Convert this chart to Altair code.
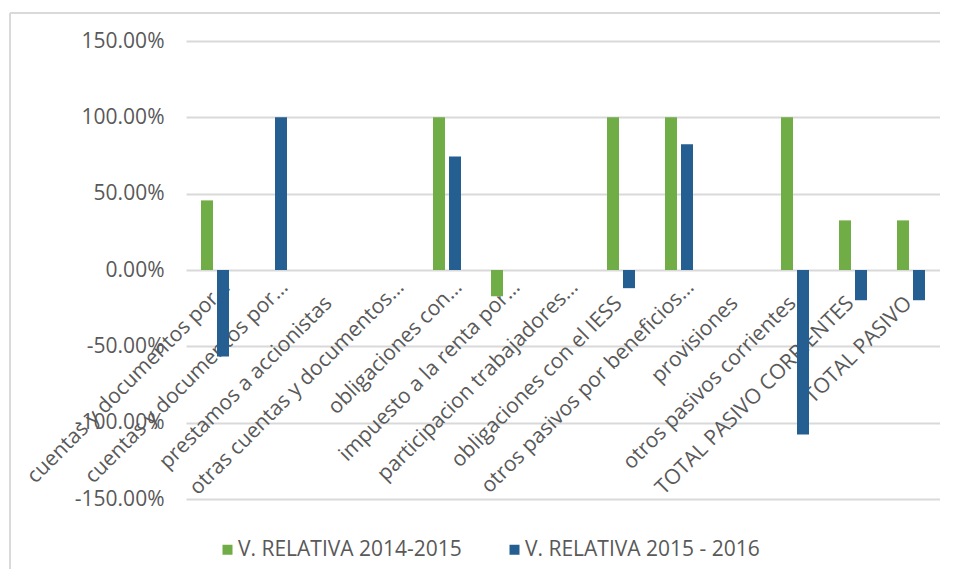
import altair as alt
import pandas as pd
import json

categories = [
    "cuentas y documentos por…",
    "cuentas y documentos por…",
    "prestamos a accionistas",
    "otras cuentas y documentos…",
    "obligaciones con…",
    "impuesto a la renta por…",
    "participacion trabajadores…",
    "obligaciones con el IESS",
    "otros pasivos por beneficios…",
    "provisiones",
    "otros pasivos corrientes",
    "TOTAL PASIVO CORRIENTES",
    "TOTAL PASIVO",
]
series = ["V. RELATIVA 2014-2015", "V. RELATIVA 2015 - 2016"]
v_2014_2015 = [0.456, 0.0, 0.0, 0.0, 1.0, -0.172, 0.0, 1.0, 1.0, 0.0, 1.0, 0.325, 0.325]
v_2015_2016 = [-0.567, 1.0, 0.0, 0.0, 0.744, 0.0, 0.0, -0.119, 0.823, 0.0, -1.077, -0.198, -0.198]
y_ticks = [-1.5, -1.0, -0.5, 0.0, 0.5, 1.0, 1.5]
colors = ["#70AD47", "#255E91"]

rows = []
for i, c in enumerate(categories):
    rows.append({"idx": i, "serie": series[0], "valor": v_2014_2015[i]})
    rows.append({"idx": i, "serie": series[1], "valor": v_2015_2016[i]})
df = pd.DataFrame(rows)

FONT = "Open Sans"
TXT = "#595959"
GRID = "#D9D9D9"

label_expr = json.dumps(categories, ensure_ascii=False) + "[datum.value]"
trunc_idx = [i for i, c in enumerate(categories) if c.endswith("…")]
trunc_test = "indexof(" + json.dumps(trunc_idx) + ", datum.value) >= 0"

bars = alt.Chart(df).mark_bar().encode(
    x=alt.X(
        "idx:O",
        sort=None,
        scale=alt.Scale(paddingInner=0, paddingOuter=0),
        axis=alt.Axis(
            title=None,
            labelExpr=label_expr,
            labelAngle=315,
            labelAlign="right",
            labelBaseline="top",
            labelPadding={"condition": {"test": trunc_test, "value": 6}, "value": 22},
            labelOffset={"condition": {"test": trunc_test, "value": 4}, "value": -10},
            labelLimit=500,
            labelFont=FONT,
            labelFontSize=21,
            labelColor=TXT,
            domain=False,
            ticks=False,
            grid=False,
            offset=-229,
        ),
    ),
    xOffset=alt.XOffset(
        "serie:N",
        sort=series,
        scale=alt.Scale(paddingInner=0.25, paddingOuter=0.9375),
    ),
    y=alt.Y(
        "valor:Q",
        scale=alt.Scale(domain=[-1.5, 1.5], nice=False),
        axis=alt.Axis(
            title=None,
            values=y_ticks,
            labelExpr="(datum.value < 0 ? '-' : '') + format(abs(datum.value), '.2%')",
            labelFont=FONT,
            labelFontSize=21,
            labelColor=TXT,
            labelPadding=22,
            domain=False,
            ticks=False,
            grid=True,
            gridColor=GRID,
            gridWidth=2,
        ),
    ),
    color=alt.Color(
        "serie:N",
        sort=series,
        scale=alt.Scale(domain=series, range=colors),
        legend=alt.Legend(
            title=None,
            orient="none",
            direction="horizontal",
            legendX=31,
            legendY=498,
            symbolType="square",
            symbolSize=100,
            symbolStrokeWidth=0,
            labelFont=FONT,
            labelFontSize=21,
            labelColor=TXT,
            labelOffset=0,
            columnPadding=42,
            labelLimit=500,
        ),
    ),
)

frame_df = pd.DataFrame({"k": [0]})
border_left = alt.Chart(frame_df).mark_rule(color=GRID, strokeWidth=2).encode(
    x=alt.value(-176), y=alt.value(-28), y2=alt.value(700)
)
border_top = alt.Chart(frame_df).mark_rule(color=GRID, strokeWidth=2).encode(
    x=alt.value(-176), x2=alt.value(900), y=alt.value(-28)
)

chart = alt.layer(border_left, border_top, bars).properties(
    width=754,
    height=458,
    autosize=alt.AutoSizeParams(type="none"),
    padding={"left": 178, "top": 33, "right": 0, "bottom": 70},
    background="white",
).configure_view(stroke=None)

chart.save("out.html", embed_options={"renderer": "svg", "actions": False})
